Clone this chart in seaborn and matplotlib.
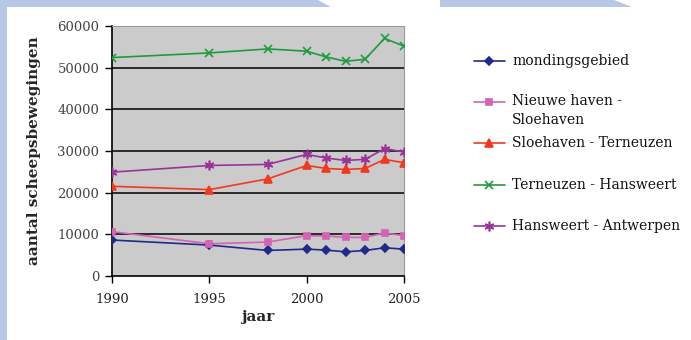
import matplotlib
matplotlib.use("Agg")
import matplotlib.pyplot as plt
from matplotlib.patches import Polygon, Rectangle
from matplotlib.lines import Line2D
import seaborn as sns
import pandas as pd

# Shipping movements per waterway section
years = [1990, 1995, 1998, 2000, 2001, 2002, 2003, 2004, 2005]
mondingsgebied = [8630, 7420, 6130, 6450, 6210, 5810, 6130, 6770, 6450]
nieuwe_haven_sloehaven = [10650, 7740, 8150, 9680, 9600, 9270, 9270, 10320, 9680]
sloehaven_terneuzen = [21530, 20730, 23310, 26530, 25810, 25570, 25810, 27990, 27180]
terneuzen_hansweert = [52420, 53540, 54500, 53950, 52570, 51530, 52010, 57020, 55160]
hansweert_antwerpen = [24920, 26530, 26780, 29190, 28310, 27740, 27990, 30570, 29760]

series_names = ["mondingsgebied", "Nieuwe haven -\nSloehaven", "Sloehaven - Terneuzen",
                "Terneuzen - Hansweert", "Hansweert - Antwerpen"]
series_values = [mondingsgebied, nieuwe_haven_sloehaven, sloehaven_terneuzen,
                 terneuzen_hansweert, hansweert_antwerpen]
colors = ["#1f2a8a", "#d463b4", "#f2381f", "#1f9a3f", "#993399"]
markers = ["D", "s", "^", "x", (6, 2, 0)]
msizes = [4.0, 5.0, 6.0, 6.0, 7.0]

y_ticks = [0, 10000, 20000, 30000, 40000, 50000, 60000]
x_ticks = [1990, 1995, 2000, 2005]

sns.set_theme(style="white")
plt.rcParams["font.family"] = ["DejaVu Serif"]

rows = []
for name, vals in zip(series_names, series_values):
    for yr, v in zip(years, vals):
        rows.append({"jaar": yr, "waarde": v, "reeks": name})
df = pd.DataFrame(rows)

fig = plt.figure(figsize=(6.91, 3.40), dpi=100)
fig.patch.set_facecolor("white")

# decorative slide border
band = "#b7c8e6"
fig.patches.append(Rectangle((0, 0), 7 / 691, 1, transform=fig.transFigure,
                             facecolor=band, edgecolor="none", zorder=0))
fig.patches.append(Polygon([(0, 1), (318 / 691, 1), (331 / 691, 1 - 7 / 340), (0, 1 - 7 / 340)],
                           closed=True, transform=fig.transFigure,
                           facecolor=band, edgecolor="none", zorder=0))
fig.patches.append(Polygon([(440 / 691, 1), (614 / 691, 1), (632 / 691, 1 - 7 / 340), (440 / 691, 1 - 7 / 340)],
                           closed=True, transform=fig.transFigure,
                           facecolor=band, edgecolor="none", zorder=0))

ax = fig.add_axes([112 / 691, 1 - 276 / 340, (404 - 112) / 691, (276 - 26) / 340])
ax.set_facecolor("#cbcbcb")

for name, c, m, ms in zip(series_names, colors, markers, msizes):
    sub = df[df["reeks"] == name]
    sns.lineplot(data=sub, x="jaar", y="waarde", ax=ax, color=c, marker=m,
                 markersize=ms, markeredgecolor=c, markerfacecolor=c,
                 markeredgewidth=1.2, linewidth=1.2, legend=False, zorder=3)

ax.set_xlim(1990, 2005)
ax.set_ylim(0, 60000)
ax.set_xticks(x_ticks)
ax.set_yticks(y_ticks)
ax.set_xticklabels([str(t) for t in x_ticks], fontsize=9.5, color="#222222")
ax.set_yticklabels([str(t) for t in y_ticks], fontsize=9.5, color="#444444")
ax.grid(False)
for t in y_ticks[1:]:
    ax.axhline(t, color="black", linewidth=1.1, zorder=1)

ax.tick_params(axis="y", direction="out", length=5, width=1, color="black", left=True, pad=4)
ax.tick_params(axis="x", direction="out", length=5, width=1, color="black", bottom=True, pad=7)
ax.spines["left"].set_color("black")
ax.spines["bottom"].set_color("black")
ax.spines["left"].set_linewidth(1.2)
ax.spines["bottom"].set_linewidth(1.2)
ax.spines["top"].set_color("#9a9a9a")
ax.spines["right"].set_color("#9a9a9a")
ax.spines["top"].set_linewidth(0.8)
ax.spines["right"].set_linewidth(0.8)

ax.set_xlabel("jaar", fontsize=11, fontweight="bold", labelpad=3)
ax.set_ylabel("aantal scheepsbewegingen", fontsize=11, fontweight="bold", labelpad=12)

# legend entries at the right
legend_y = [61, 102, 143, 185, 226]
for name, c, m, ms, ly in zip(series_names, colors, markers, msizes, legend_y):
    yf = 1 - ly / 340
    fig.lines.append(Line2D([474 / 691, 505 / 691], [yf, yf], transform=fig.transFigure,
                            color=c, linewidth=1.2))
    fig.lines.append(Line2D([489.5 / 691], [yf], transform=fig.transFigure,
                            color=c, marker=m, markersize=ms, markeredgewidth=1.2,
                            markerfacecolor=c, markeredgecolor=c, linestyle="none"))
    if "\n" in name:
        fig.text(512 / 691, 1 - (ly - 8) / 340, name, fontsize=10, va="top", ha="left",
                 color="#111111", linespacing=1.45)
    else:
        fig.text(512 / 691, yf, name, fontsize=10, va="center", ha="left", color="#111111")

fig.savefig("out.png", dpi=100, facecolor="white")
